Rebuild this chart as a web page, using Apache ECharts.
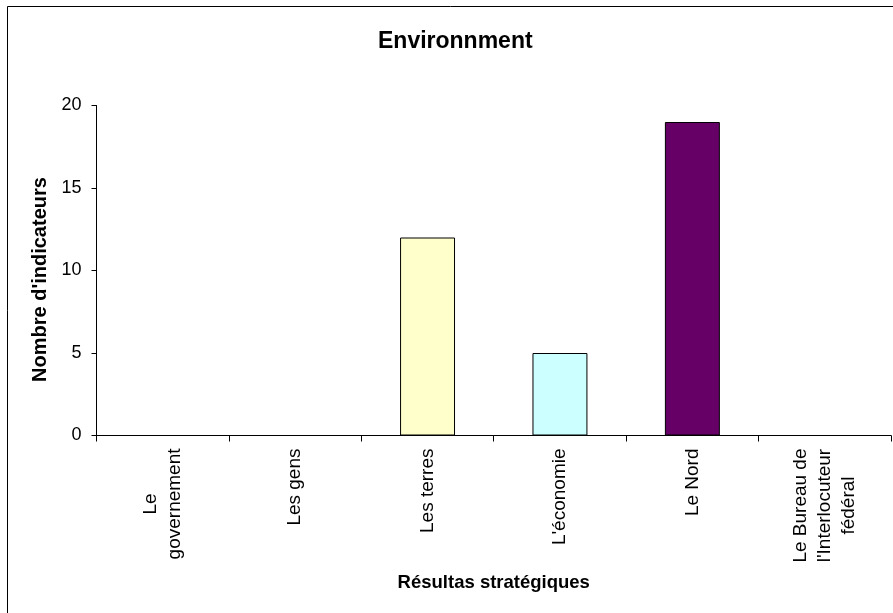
<!DOCTYPE html>
<html>
<head>
<meta charset="utf-8">
<script src="https://cdn.jsdelivr.net/npm/echarts@6/dist/echarts.min.js"></script>
<style>
  html, body { margin: 0; padding: 0; background: #fff; }
  #chart { width: 893px; height: 613px; }
</style>
</head>
<body>
<div id="chart"></div>
<script>
// Strategic outcomes and indicator counts
const categories = [
  'Le\ngovernement',
  'Les gens',
  'Les terres',
  "L'économie",
  'Le Nord',
  "Le Bureau de\nl'Interlocuteur\nfédéral"
];
const indicatorCounts = [0, 0, 12, 5, 19, 0];
const barColors = ['#FFFFCC', '#FFFFCC', '#FFFFCC', '#CCFFFF', '#660066', '#FFFFCC'];
const yTicks = [0, 5, 10, 15, 20];

const titleText = 'Environnment';
const xAxisTitle = 'Résultas stratégiques';
const yAxisTitle = "Nombre d'indicateurs";

const FONT = '"Liberation Sans", Arial, sans-serif';

const chart = echarts.init(document.getElementById('chart'), null, { renderer: 'canvas' });

chart.setOption({
  animation: false,
  backgroundColor: '#ffffff',
  title: {
    text: titleText,
    left: 378,
    top: 30,
    padding: 0,
    textStyle: { fontFamily: FONT, fontSize: 23, fontWeight: 'bold', color: '#000' }
  },
  graphic: [
    {
      type: 'rect',
      shape: { x: 7.5, y: 6.5, width: 1000, height: 1000 },
      style: { fill: 'none', stroke: '#000', lineWidth: 1 },
      silent: true
    }
  ],
  grid: { left: 96.5, right: 2, top: 105.5, bottom: 177.5, containLabel: false },
  xAxis: {
    type: 'category',
    data: categories,
    name: xAxisTitle,
    nameLocation: 'middle',
    nameGap: 138,
    nameTextStyle: { fontFamily: FONT, fontSize: 18.5, fontWeight: 'bold', color: '#000' },
    axisLine: { show: true, lineStyle: { color: '#000', width: 1 } },
    axisTick: { show: true, length: 6, lineStyle: { color: '#000' } },
    axisLabel: {
      rotate: 90,
      interval: 0,
      margin: 13,
      color: '#000',
      fontFamily: FONT,
      fontSize: 19,
      formatter: function (v) {
        return v.split('\n').map(function (l) { return '{c|' + l + '}'; }).join('\n');
      },
      rich: {
        c: { align: 'center', fontFamily: FONT, fontSize: 19, color: '#000', lineHeight: 24 }
      }
    },
    splitLine: { show: false }
  },
  yAxis: {
    type: 'value',
    min: yTicks[0],
    max: yTicks[yTicks.length - 1],
    interval: yTicks[1] - yTicks[0],
    name: yAxisTitle,
    nameLocation: 'middle',
    nameGap: 46,
    nameTextStyle: { fontFamily: FONT, fontSize: 20, fontWeight: 'bold', color: '#000', padding: [0, 18, 0, 0] },
    axisLine: { show: true, lineStyle: { color: '#000', width: 1 } },
    axisTick: { show: true, length: 5, lineStyle: { color: '#000' } },
    axisLabel: { margin: 15, color: '#000', fontFamily: FONT, fontSize: 18 },
    splitLine: { show: false }
  },
  series: [
    {
      type: 'bar',
      data: indicatorCounts.map(function (v, i) {
        return { value: v, itemStyle: { color: barColors[i] } };
      }),
      barWidth: '41.5%',
      itemStyle: { borderColor: '#000', borderWidth: 1 }
    }
  ]
});
</script>
</body>
</html>
